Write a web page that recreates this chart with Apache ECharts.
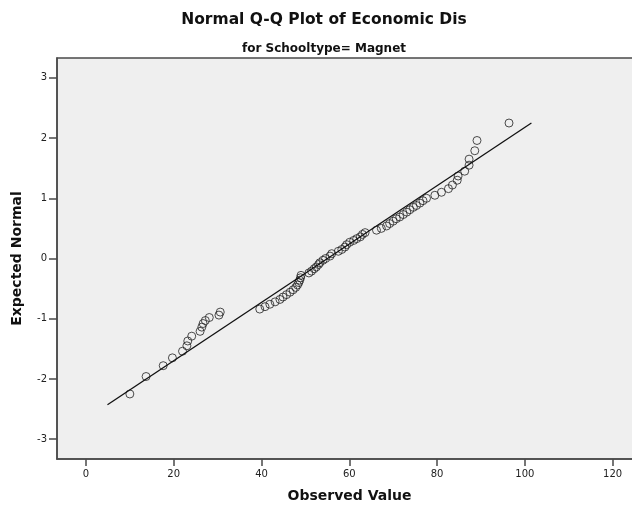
<!DOCTYPE html>
<html>
<head>
<meta charset="utf-8">
<script src="https://cdn.jsdelivr.net/npm/echarts@6/dist/echarts.min.js"></script>
<style>
html,body{margin:0;padding:0;background:#fff;}
#chart{width:632px;height:508px;}
</style>
</head>
<body>
<div id="chart"></div>
<script>
var observed = [
  10.0, 13.7, 17.6, 19.7, 22.0, 23.0, 23.2, 24.1, 26.0, 26.4, 26.7, 27.2, 28.1, 30.3, 30.6,
  39.6, 40.8, 41.9, 43.1, 44.2, 44.9, 45.7, 46.5, 47.2, 47.8, 48.2, 48.5, 48.7, 48.9, 49.0,
  50.8, 51.4, 52.0, 52.5, 53.0, 53.3, 54.0, 54.6, 55.6, 56.0, 57.5, 58.3, 59.0, 59.4, 60.1,
  61.0, 61.7, 62.5, 63.0, 63.6,
  66.2, 67.3, 68.5, 69.2, 70.0, 70.7, 71.5, 72.3, 73.1, 73.8, 74.6, 75.3, 76.1, 76.8, 77.6,
  79.5, 81.0, 82.6, 83.5, 84.6, 84.8, 86.3, 87.3, 87.3, 88.6, 89.1, 96.4
];
var expected = [
  -2.25, -1.96, -1.78, -1.65, -1.54, -1.45, -1.37, -1.29, -1.21, -1.14, -1.08, -1.03, -0.98, -0.94, -0.89,
  -0.84, -0.80, -0.76, -0.72, -0.68, -0.64, -0.60, -0.56, -0.52, -0.48, -0.44, -0.40, -0.36, -0.32, -0.28,
  -0.24, -0.21, -0.17, -0.14, -0.10, -0.07, -0.03, 0.00, 0.04, 0.08, 0.12, 0.15, 0.19, 0.23, 0.27,
  0.30, 0.33, 0.36, 0.40, 0.43,
  0.47, 0.50, 0.54, 0.58, 0.62, 0.66, 0.69, 0.73, 0.77, 0.81, 0.85, 0.88, 0.92, 0.96, 1.00,
  1.05, 1.10, 1.16, 1.22, 1.30, 1.37, 1.45, 1.55, 1.65, 1.79, 1.96, 2.25
];
// Reference line end points
var lineX = [4.9, 101.5];
var lineY = [-2.43, 2.25];
// Tick labels
var xTicks = [0, 20, 40, 60, 80, 100, 120];
var yTicks = [-3, -2, -1, 0, 1, 2, 3];

var points = observed.map(function (v, i) { return [v, expected[i]]; });
var linePts = lineX.map(function (v, i) { return [v, lineY[i]]; });

var chart = echarts.init(document.getElementById('chart'), null, {renderer: 'canvas'});
var tickFont = {color: '#222', fontSize: 10, fontFamily: 'DejaVu Sans'};
chart.setOption({
  animation: false,
  backgroundColor: '#ffffff',
  title: [
    {text: 'Normal Q-Q Plot of Economic Dis', left: 319, top: 7, textAlign: 'center',
     textStyle: {fontSize: 15.5, fontWeight: 'bold', color: '#111', fontFamily: 'DejaVu Sans'}},
    {text: 'for Schooltype= Magnet', left: 319, top: 38, textAlign: 'center',
     textStyle: {fontSize: 12, fontWeight: 'bold', color: '#111', fontFamily: 'DejaVu Sans'}}
  ],
  grid: {left: 57, top: 58, right: -10, bottom: 49, show: true,
         outerBoundsMode: 'none', containLabel: false,
         backgroundColor: '#efefef', borderColor: '#4a4a4a', borderWidth: 1.5},
  xAxis: {
    type: 'value', min: -6.6, max: 126.7,
    name: 'Observed Value', nameLocation: 'middle', nameGap: 30,
    nameTextStyle: {fontSize: 14, fontWeight: 'bold', color: '#111', fontFamily: 'DejaVu Sans'},
    axisLine: {show: true, onZero: false, lineStyle: {color: '#4a4a4a', width: 1.5}},
    axisTick: {show: true, length: 7, customValues: xTicks, lineStyle: {color: '#4a4a4a', width: 1.5}},
    axisLabel: Object.assign({customValues: xTicks, margin: 10}, tickFont),
    splitLine: {show: false}
  },
  yAxis: {
    type: 'value', min: -3.33, max: 3.33,
    name: 'Expected Normal', nameLocation: 'middle', nameGap: 33, nameRotate: 90,
    nameTextStyle: {fontSize: 14, fontWeight: 'bold', color: '#111', fontFamily: 'DejaVu Sans'},
    axisLine: {show: true, onZero: false, lineStyle: {color: '#4a4a4a', width: 1.5}},
    axisTick: {show: true, length: 8, customValues: yTicks, lineStyle: {color: '#4a4a4a', width: 1.5}},
    axisLabel: Object.assign({customValues: yTicks, margin: 10}, tickFont),
    splitLine: {show: false}
  },
  series: [
    {type: 'line', data: linePts, symbol: 'none', silent: true,
     lineStyle: {color: '#111', width: 1.3}, z: 3},
    {type: 'scatter', data: points, symbol: 'circle', symbolSize: 8,
     itemStyle: {color: 'rgba(0,0,0,0)', borderColor: '#222', borderWidth: 1}, z: 2}
  ]
});
</script>
</body>
</html>
